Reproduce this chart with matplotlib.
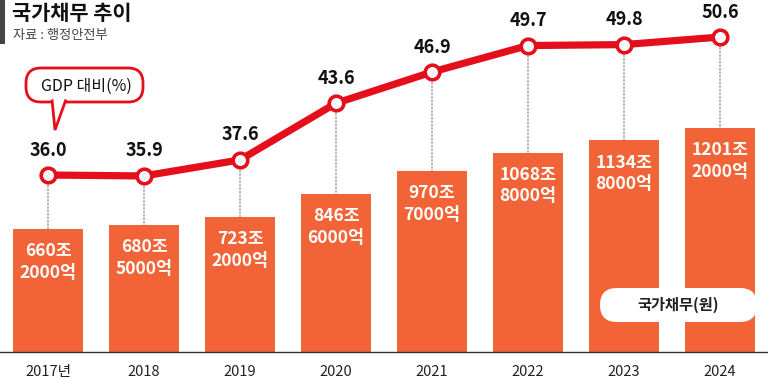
import matplotlib
matplotlib.use("Agg")
import matplotlib.pyplot as plt
from matplotlib.patches import FancyBboxPatch, Polygon, Rectangle, ConnectionPatch

plt.rcParams['font.family'] = ['Noto Sans CJK KR', 'DejaVu Sans']

# data
years = ["2017년", "2018", "2019", "2020", "2021", "2022", "2023", "2024"]
debt = [660.2, 680.5, 723.2, 846.6, 970.7, 1068.8, 1134.8, 1201.2]  # 조원
debt_top = ["660조", "680조", "723조", "846조", "970조", "1068조", "1134조", "1201조"]
debt_bottom = ["2000억", "5000억", "2000억", "6000억", "7000억", "8000억", "8000억", "2000억"]
gdp_ratio = [36.0, 35.9, 37.6, 43.6, 46.9, 49.7, 49.8, 50.6]

W, H = 768, 379
BAR = "#f26437"
RED = "#e50f1b"

fig = plt.figure(figsize=(W / 100, H / 100), dpi=100)
fig.patch.set_facecolor("white")

base = 27
ax = fig.add_axes([0, base / H, 1, (H - base) / H])
ax.set_xlim(-0.5, len(years) - 0.5)
ax.set_ylim(0, 1888)
ax.axis("off")

x = list(range(len(years)))
ax.bar(x, debt, width=0.72, color=BAR, zorder=2)
ax.axhline(0, color="#333333", lw=1.0, clip_on=False, zorder=3)

for i in x:
    ax.annotate(debt_top[i], (i, debt[i]), xytext=(0, -16), textcoords="offset points",
                ha="center", va="center", color="white", fontsize=12.5, fontweight="bold", zorder=4)
    ax.annotate(debt_bottom[i], (i, debt[i]), xytext=(0, -31.5), textcoords="offset points",
                ha="center", va="center", color="white", fontsize=12.5, fontweight="bold", zorder=4)
    ax.annotate(years[i], (i, 0), xytext=(0, -14.5), textcoords="offset points",
                ha="center", va="center", color="#222222", fontsize=10.5, annotation_clip=False)

ax2 = ax.twinx()
ax2.set_ylim(17.27, 54.52)
ax2.axis("off")

# dotted guides from each marker down to its bar (drawn in the lower axes, under the line)
for i in x:
    con = ConnectionPatch(xyA=(i, gdp_ratio[i]), coordsA=ax2.transData,
                          xyB=(i, debt[i]), coordsB=ax.transData,
                          color="#8a8a8a", lw=0.9, linestyle=(0, (1.2, 1.6)), zorder=1)
    con.set_clip_on(False)
    ax.add_artist(con)

ax2.plot(x, gdp_ratio, color=RED, lw=5.2, solid_capstyle="round", zorder=5,
         marker="o", markersize=10.5, markerfacecolor="white", markeredgecolor=RED,
         markeredgewidth=2.6)
for i in x:
    ax2.annotate(f"{gdp_ratio[i]:.1f}", (i, gdp_ratio[i]), xytext=(0, 18), textcoords="offset points",
                 ha="center", va="center", color="#111111", fontsize=13, fontweight="bold")

# overlay in pixel coordinates for title, callouts
ov = fig.add_axes([0, 0, 1, 1], zorder=10)
ov.set_xlim(0, W)
ov.set_ylim(H, 0)
ov.axis("off")
ov.patch.set_alpha(0)

ov.add_patch(Rectangle((0, 0), 4.5, 44, color="#444444", lw=0))
ov.text(12, 13, "국가채무 추이", fontsize=15, fontweight="bold", color="#111111", ha="left", va="center")
ov.text(13, 36, "자료 : 행정안전부", fontsize=9.5, color="#444444", ha="left", va="center")

bubble = FancyBboxPatch((26, 68), 117, 34, boxstyle="round,pad=0,rounding_size=15",
                        facecolor="white", edgecolor=RED, lw=2.0)
ov.add_patch(bubble)
ov.add_patch(Polygon([(52, 99.5), (55, 130), (66, 99.5)], closed=False,
                     facecolor="white", edgecolor=RED, lw=2.0, joinstyle="miter"))
ov.text(86, 86, "GDP 대비(%)", fontsize=11.5, color="#111111", ha="center", va="center")

pill = FancyBboxPatch((600, 288), 157, 34, boxstyle="round,pad=0,rounding_size=17",
                      facecolor="white", edgecolor="none")
ov.add_patch(pill)
ov.text(678, 305, "국가채무(원)", fontsize=11, fontweight="bold", color="#222222", ha="center", va="center")

fig.savefig("out.png", dpi=100, facecolor="white")
